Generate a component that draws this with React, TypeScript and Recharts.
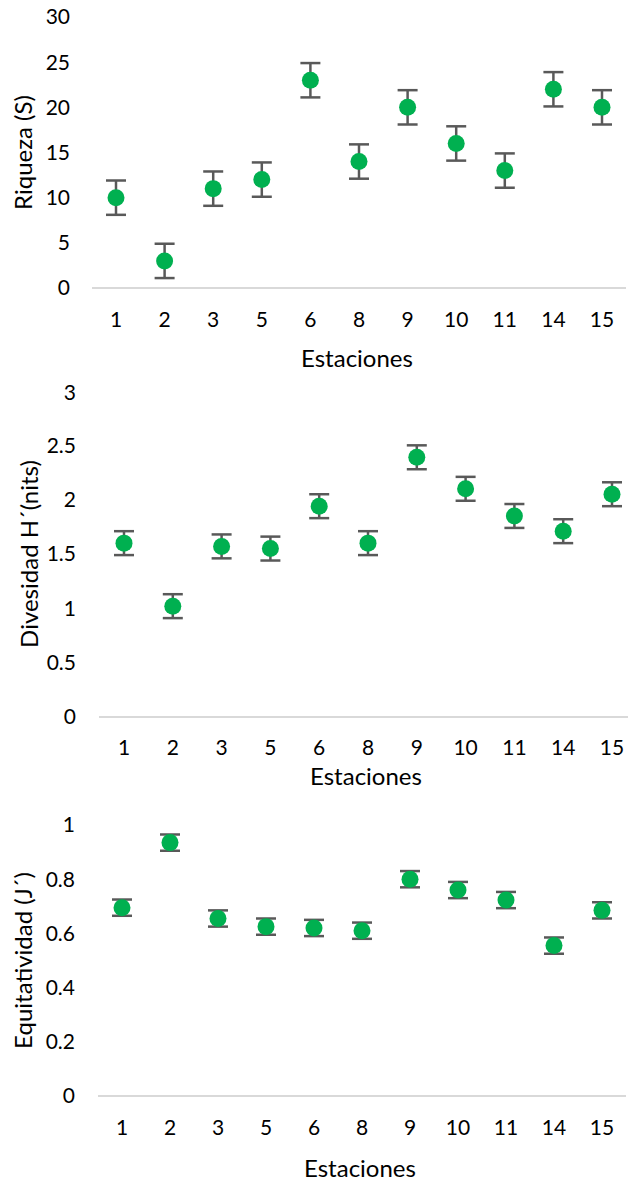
import React from "react";
import { ComposedChart, Scatter, XAxis, YAxis, ErrorBar } from "recharts";

const stations = ["1", "2", "3", "5", "6", "8", "9", "10", "11", "14", "15"];

const riqueza = [10, 3, 11, 12, 23, 14, 20, 16, 13, 22, 20];
const riquezaErr = [1.9, 1.9, 1.9, 1.9, 1.9, 1.9, 1.9, 1.9, 1.9, 1.9, 1.9];

const diversidad = [1.6, 1.02, 1.57, 1.55, 1.94, 1.6, 2.39, 2.1, 1.85, 1.71, 2.05];
const diversidadErr = [0.11, 0.11, 0.11, 0.11, 0.11, 0.11, 0.11, 0.11, 0.11, 0.11, 0.11];

const equitatividad = [0.695, 0.935, 0.655, 0.625, 0.62, 0.61, 0.8, 0.76, 0.723, 0.555, 0.685];
const equitatividadErr = [0.03, 0.03, 0.03, 0.03, 0.03, 0.03, 0.03, 0.03, 0.03, 0.03, 0.03];

const ticks1 = [0, 5, 10, 15, 20, 25, 30];
const ticks2 = [0, 0.5, 1, 1.5, 2, 2.5, 3];
const ticks3 = [0, 0.2, 0.4, 0.6, 0.8, 1];

const FONT = "Lato, 'Open Sans', sans-serif";
const TEXT = "#000000";
const GREEN = "#00B050";
const ERR = "#595959";
const TICK_SIZE = 21;
const TITLE_SIZE = 24;

function build(values: number[], errs: number[]) {
  return stations.map((s, i) => ({ station: s, value: values[i], err: errs[i] }));
}

const Dot = (p: any) => <circle cx={p.cx} cy={p.cy} r={8.5} fill={GREEN} />;

interface PanelProps {
  top: number;
  width: number;
  height: number;
  margin: { top: number; right: number; bottom: number; left: number };
  yWidth: number;
  xHeight: number;
  pad: number;
  yTickGap: number;
  xTickGap: number;
  xTitleOffset: number;
  yTitleX: number;
  yTitle: string;
  ticks: number[];
  data: { station: string; value: number; err: number }[];
}

function Panel(props: PanelProps) {
  const { top, width, height, margin, yWidth, xHeight, pad, yTickGap, xTickGap, xTitleOffset, yTitleX, yTitle, ticks, data } = props;
  return (
    <div style={{ position: "absolute", left: 0, top }}>
      <ComposedChart width={width} height={height} data={data} margin={margin}>
        <XAxis
          dataKey="station"
          type="category"
          height={xHeight}
          padding={{ left: pad, right: pad }}
          axisLine={{ stroke: "#D9D9D9", strokeWidth: 2 }}
          tickLine={false}
          tickSize={0}
          tickMargin={xTickGap}
          tick={{ fontSize: TICK_SIZE, fill: TEXT, fontFamily: FONT }}
          interval={0}
          label={{
            content: ({ viewBox }: any) => (
              <text
                x={viewBox.x + viewBox.width / 2 - 2}
                y={viewBox.y + xTitleOffset}
                textAnchor="middle"
                dominantBaseline="central"
                fontSize={TITLE_SIZE}
                fontFamily={FONT}
                fill={TEXT}
              >
                Estaciones
              </text>
            ),
          }}
        />
        <YAxis
          type="number"
          width={yWidth}
          domain={[ticks[0], ticks[ticks.length - 1]]}
          ticks={ticks}
          axisLine={false}
          tickLine={false}
          tickSize={0}
          tickMargin={yTickGap}
          tick={{ fontSize: TICK_SIZE, fill: TEXT, fontFamily: FONT }}
          label={{
            content: ({ viewBox }: any) => {
              const cy = viewBox.y + viewBox.height / 2;
              return (
                <text
                  x={yTitleX}
                  y={cy}
                  transform={`rotate(-90, ${yTitleX}, ${cy})`}
                  textAnchor="middle"
                  dominantBaseline="central"
                  fontSize={TITLE_SIZE}
                  fontFamily={FONT}
                  fill={TEXT}
                >
                  {yTitle}
                </text>
              );
            },
          }}
        />
        <Scatter dataKey="value" shape={Dot} isAnimationActive={false}>
          <ErrorBar dataKey="err" direction="y" width={10} stroke={ERR} strokeWidth={2.5} />
        </Scatter>
      </ComposedChart>
    </div>
  );
}

export default function App() {
  return (
    <div style={{ position: "absolute", left: 0, top: 0, width: 628, height: 1180, overflow: "hidden", background: "#fff" }}>
      <Panel
        top={0}
        width={628}
        height={380}
        margin={{ top: 17, right: 2, bottom: 0, left: 0 }}
        yWidth={92}
        xHeight={92}
        pad={24}
        yTickGap={22}
        xTickGap={24}
        xTitleOffset={69}
        yTitleX={22}
        yTitle="Riqueza (S)"
        ticks={ticks1}
        data={build(riqueza, riquezaErr)}
      />
      <Panel
        top={380}
        width={640}
        height={420}
        margin={{ top: 11, right: 3, bottom: 0, left: 0 }}
        yWidth={99}
        xHeight={83}
        pad={25}
        yTickGap={23}
        xTickGap={23}
        xTitleOffset={58}
        yTitleX={28}
        yTitle="Divesidad H´(nits)"
        ticks={ticks2}
        data={build(diversidad, diversidadErr)}
      />
      <Panel
        top={800}
        width={628}
        height={380}
        margin={{ top: 25, right: 2, bottom: 0, left: 0 }}
        yWidth={98}
        xHeight={84}
        pad={24}
        yTickGap={23}
        xTickGap={24}
        xTitleOffset={71}
        yTitleX={22}
        yTitle="Equitatividad (J´)"
        ticks={ticks3}
        data={build(equitatividad, equitatividadErr)}
      />
    </div>
  );
}
